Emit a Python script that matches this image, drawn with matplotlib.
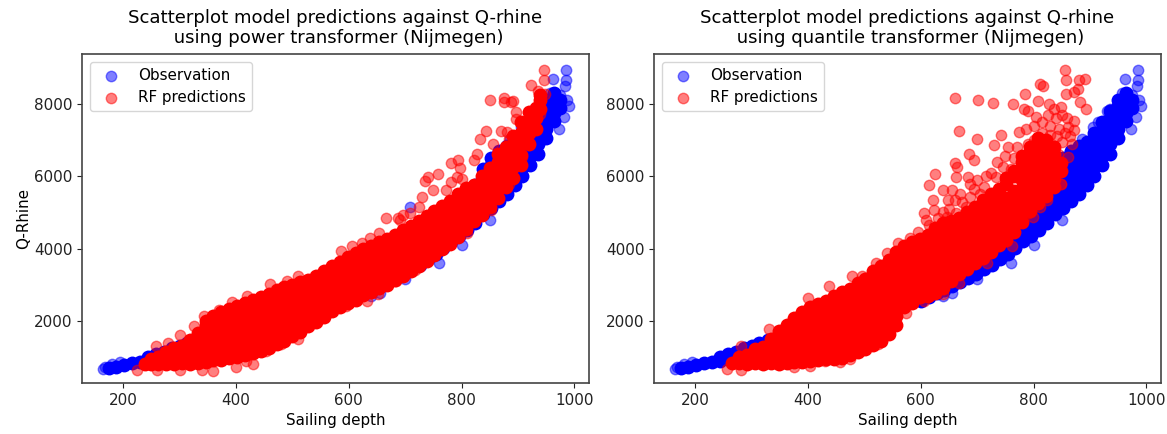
import matplotlib
matplotlib.use('Agg')
import matplotlib.pyplot as plt

# values, one row per depth: (depth, [q values])
obs_dense = [
    (174, [700]), (188, [730]), (202, [780]), (216, [830]),
    (230, [870]), (244, [900, 1000]), (258, [950, 1080]), (272, [1000, 1150]),
    (286, [1060, 1250]), (300, [1130, 1320]), (314, [1200, 1400]), (330, [1300, 1480]),
    (350, [1400, 1600]), (400, [1800]), (450, [2150]), (500, [2350]), (550, [2450]),
    (600, [2560]), (614, [2660]), (628, [2760]), (642, [2860, 3000]), (656, [2980, 3150]),
    (670, [3080, 3250]), (684, [3180, 3400]), (698, [3300, 3550]), (712, [3430, 3700]),
    (726, [3560, 3850]), (740, [3720, 4000]), (754, [3860, 4100, 4350]),
    (768, [4020, 4300, 4550]), (782, [4200, 4450, 4700]), (796, [4340, 4600, 4850]),
    (810, [4520, 4750, 5000, 5250]), (824, [4720, 4950, 5200, 5450, 5750]),
    (838, [4970, 5200, 5450, 5700, 5950, 6200]), (852, [5130, 5350, 5600, 5850, 6100, 6300, 6500]),
    (866, [5320, 5550, 5800, 6050, 6300, 6500, 6700]), (880, [5520, 5750, 6000, 6250, 6500, 6650, 6850]),
    (894, [5770, 6000, 6250, 6500, 6750, 6950]), (908, [6020, 6250, 6500, 6750, 6980, 7200]),
    (922, [6320, 6550, 6800, 7050, 7250, 7500]), (936, [6620, 6900, 7150, 7400, 7600, 7800]),
    (950, [7070, 7300, 7550, 7800, 7950, 8100]), (964, [7520, 7750, 7950, 8100, 8300]),
    (974, [7900, 8100]),
]
obs_sparse_x = [165, 167, 180, 195, 986, 986, 984, 987, 963, 975, 956, 948, 935, 930,
                886, 864, 905, 915, 709, 990, 982, 972, 655, 640, 700, 760, 800, 850]
obs_sparse_y = [680, 740, 800, 880, 8950, 8650, 8500, 8120, 8680, 8250, 8300, 7950, 7860, 7800,
                7040, 6620, 7350, 7500, 5160, 7950, 7650, 7300, 2780, 2700, 3150, 3600, 4100, 4800]

power_dense = [
    (238, [820]), (250, [800, 950]), (262, [800, 1000]), (276, [800, 1040, 1150]),
    (290, [800, 1020, 1240]), (304, [830, 1050, 1300]),
    (318, [820, 1040, 1260, 1480]), (332, [850, 1070, 1290, 1510, 1680]),
    (346, [880, 1100, 1320, 1540, 1760, 1880, 2000]),
    (360, [930, 1150, 1370, 1590, 1810, 2020, 2140]),
    (374, [910, 1130, 1350, 1570, 1790, 2010, 2130, 2260]),
    (388, [970, 1190, 1410, 1630, 1850, 2070, 2240, 2340]),
    (402, [1010, 1230, 1450, 1670, 1890, 2110, 2300, 2420]),
    (416, [1050, 1270, 1490, 1710, 1930, 2150, 2380, 2500]),
    (430, [1110, 1330, 1550, 1770, 1990, 2210, 2460, 2580]),
    (444, [1180, 1400, 1620, 1840, 2060, 2280, 2540, 2660]),
    (458, [1250, 1470, 1690, 1910, 2130, 2350, 2620, 2740]),
    (472, [1370, 1590, 1810, 2030, 2250, 2470, 2680, 2850]),
    (486, [1450, 1670, 1890, 2110, 2330, 2550, 2760, 2940]),
    (500, [1580, 1800, 2020, 2240, 2460, 2680, 2840, 3000]),
    (514, [1700, 1920, 2140, 2360, 2580, 2800, 2920, 3080]),
    (528, [1850, 2070, 2290, 2510, 2730, 2950, 3130]),
    (542, [1970, 2190, 2410, 2630, 2850, 3060, 3250]),
    (556, [2110, 2330, 2550, 2770, 2990, 3200, 3380]),
    (570, [2270, 2490, 2710, 2930, 3150, 3370, 3520]),
    (584, [2380, 2600, 2820, 3040, 3260, 3470, 3640]),
    (598, [2500, 2720, 2940, 3160, 3380, 3590, 3760]),
    (612, [2590, 2810, 3030, 3250, 3470, 3720, 3880]),
    (626, [2710, 2930, 3150, 3370, 3590, 3800, 3980]),
    (640, [2800, 3020, 3240, 3460, 3680, 3900, 4070]),
    (654, [2900, 3120, 3340, 3560, 3780, 4000, 4170]),
    (668, [3000, 3220, 3440, 3660, 3880, 4100, 4270]),
    (682, [3130, 3350, 3570, 3790, 4010, 4220, 4390]),
    (696, [3250, 3470, 3690, 3910, 4130, 4340, 4510]),
    (710, [3380, 3600, 3820, 4040, 4260, 4460, 4630]),
    (724, [3520, 3740, 3960, 4180, 4400, 4600, 4760]),
    (738, [3670, 3890, 4110, 4330, 4550, 4720, 4890]),
    (752, [3830, 4050, 4270, 4490, 4710, 4870, 5030]),
    (766, [3980, 4200, 4420, 4640, 4860, 5000, 5170]),
    (780, [4130, 4350, 4570, 4790, 5010, 5170, 5330]),
    (794, [4330, 4550, 4770, 4990, 5210, 5320, 5500]),
    (808, [4530, 4750, 4970, 5190, 5410, 5520, 5680]),
    (822, [4770, 4990, 5210, 5430, 5650, 5770]),
    (836, [4930, 5150, 5370, 5590, 5810, 6020]),
    (850, [5150, 5370, 5590, 5810, 6030, 6240]),
    (864, [5400, 5650, 5900, 6150, 6400, 6620]),
    (878, [5700, 5950, 6200, 6450, 6700, 6820]),
    (892, [5950, 6250, 6550, 6850, 7120]),
    (906, [6300, 6600, 6900, 7200, 7500]),
    (920, [6900, 7200, 7500, 7780]),
    (932, [7300, 7600, 7900]),
    (940, [7850, 8100, 8250]),
]
power_sparse_x = [851, 876, 876, 887, 891, 896, 897, 844, 832, 870, 881, 827, 822, 782, 793, 798,
                  758, 741, 736, 749, 729, 724, 709, 697, 690, 666, 773, 782, 792, 801, 946, 946,
                  923, 936, 856, 884, 258, 280, 300, 325, 344, 370, 393, 420, 460, 491, 510, 586,
                  605, 623, 638, 654, 687, 225, 260, 300, 340, 360, 400, 430, 418, 454, 479, 510,
                  553, 596, 632, 651, 684, 718, 761, 810, 853, 884, 908, 927, 939, 948]
power_sparse_y = [8108, 8154, 8044, 8044, 8071, 7769, 7586, 7238, 7037, 7238, 7220, 6624, 6441,
                  6368, 6460, 6240, 6075, 5983, 5874, 5617, 5434, 5160, 4976, 4930, 4793, 4839,
                  5617, 5846, 5983, 5938, 8941, 8657, 8529, 8365, 6899, 7037, 1320, 1400, 1620,
                  1850, 2150, 2300, 2520, 2700, 3020, 3100, 3236, 3923, 4060, 4152, 4289, 4427,
                  4840, 640, 650, 640, 640, 620, 720, 800, 900, 1176, 1359, 1496, 2137, 2412,
                  2550, 2733, 3100, 3420, 3970, 4430, 5070, 5800, 6533, 7450, 7720, 8270]

quantile_dense = [
    (266, [850]), (278, [830, 1000]), (292, [820, 1050]),
    (306, [840, 1070, 1230]), (320, [820, 1050, 1280]),
    (334, [840, 1070, 1300, 1500]), (348, [820, 1050, 1280, 1510, 1720]),
    (362, [850, 1080, 1310, 1540, 1770, 1900]),
    (376, [860, 1090, 1320, 1550, 1780, 2010, 2090]),
    (390, [860, 1090, 1320, 1550, 1780, 2010, 2240]),
    (404, [890, 1120, 1350, 1580, 1810, 2040, 2270, 2380]),
    (418, [920, 1150, 1380, 1610, 1840, 2070, 2300, 2470]),
    (432, [940, 1170, 1400, 1630, 1860, 2090, 2320, 2550]),
    (446, [950, 1180, 1410, 1640, 1870, 2100, 2330, 2560, 2690]),
    (460, [990, 1220, 1450, 1680, 1910, 2140, 2370, 2600, 2800]),
    (474, [1050, 1280, 1510, 1740, 1970, 2200, 2430, 2660, 2880]),
    (488, [1140, 1370, 1600, 1830, 2060, 2290, 2520, 2750, 2950, 3060]),
    (502, [1230, 1460, 1690, 1920, 2150, 2380, 2610, 2840, 3020, 3150]),
    (516, [1330, 1560, 1790, 2020, 2250, 2480, 2710, 2940, 3240, 3380]),
    (530, [1450, 1680, 1910, 2140, 2370, 2600, 2830, 3060, 3380, 3520]),
    (544, [1650, 1880, 2110, 2340, 2570, 2800, 3030, 3260, 3540, 3680]),
    (556, [1900, 2130, 2360, 2590, 2820, 3050, 3280, 3510, 3790, 3920]),
    (570, [2380, 2610, 2840, 3070, 3300, 3530, 3760, 3950, 4080]),
    (584, [2500, 2730, 2960, 3190, 3420, 3650, 3880, 4050, 4180]),
    (598, [2650, 2880, 3110, 3340, 3570, 3800, 4030, 4150, 4280]),
    (612, [2700, 2930, 3160, 3390, 3620, 3850, 4080, 4250, 4380]),
    (626, [2770, 3000, 3230, 3460, 3690, 3920, 4150, 4450, 4580]),
    (640, [2900, 3130, 3360, 3590, 3820, 4050, 4280, 4600, 4720]),
    (654, [3100, 3330, 3560, 3790, 4020, 4250, 4480, 4600, 4760]),
    (668, [3300, 3530, 3760, 3990, 4220, 4450, 4700, 4850]),
    (682, [3450, 3680, 3910, 4140, 4370, 4600, 4850, 5000]),
    (696, [3600, 3830, 4060, 4290, 4520, 4750, 5000, 5150]),
    (710, [3750, 3980, 4210, 4440, 4670, 4900, 5200, 5350]),
    (724, [3900, 4130, 4360, 4590, 4820, 5050, 5350, 5500]),
    (738, [4100, 4330, 4560, 4790, 5020, 5250, 5500, 5650]),
    (752, [4250, 4480, 4710, 4940, 5170, 5400, 5800, 5950]),
    (766, [4450, 4680, 4910, 5140, 5370, 5600, 6000, 6150]),
    (780, [4750, 4980, 5210, 5440, 5670, 5900, 6220, 6400, 6550]),
    (794, [5050, 5280, 5510, 5740, 5970, 6200, 6430, 6650, 6800]),
    (808, [5250, 5480, 5710, 5940, 6170, 6400, 6630, 6900, 7050]),
    (822, [5450, 5680, 5910, 6140, 6370, 6600, 6830, 7000]),
    (836, [5700, 5930, 6160, 6390, 6620, 6820]),
    (848, [6150, 6380]),
]
quantile_sparse_x = [661, 701, 728, 763, 783, 785, 790, 812, 817, 808, 827, 855, 857, 880, 891, 858,
                     871, 879, 883, 893, 871, 861, 668, 699, 742, 730, 775, 685, 694, 661, 665, 625,
                     615, 662, 684, 687, 640, 656, 621, 649, 624, 606, 609, 615, 687, 680, 662, 646,
                     674, 712, 734, 746, 755, 787, 805, 836, 849, 871, 843, 861, 849, 824, 812, 790,
                     281, 331, 400, 437, 478, 496, 521, 540, 559, 581, 596, 256, 281, 375, 403, 431,
                     456, 475, 524, 543, 574, 606, 640, 668, 718, 762, 799, 849,
                     800, 815, 825, 830, 840, 845, 850, 860, 865, 855, 868, 850, 842, 830, 815, 800,
                     790, 770, 765, 760, 750, 735, 725, 715, 700, 705, 695, 670, 660, 650, 640, 630]
quantile_sparse_y = [8154, 8108, 8026, 7998, 7861, 8273, 7797, 8548, 8502, 8090, 7998, 8941, 8657,
                     8657, 8685, 8273, 8319, 8410, 8044, 7861, 7540, 7357, 7247, 7037, 7128, 6853,
                     7220, 6624, 6441, 6368, 6258, 6075, 5755, 5983, 5983, 5800, 5617, 5617, 5342,
                     5342, 5068, 4976, 4793, 4656, 5434, 5160, 4976, 4885, 5297, 5709, 5983, 6258,
                     6807, 7311, 7632, 7861, 7906, 7266, 6624, 6533, 5800, 5342, 5160, 4976, 1313,
                     1771, 2640, 2962, 3236, 3236, 3603, 3877, 4152, 4289, 4473, 672, 650, 718, 764,
                     901, 855, 947, 1359, 1680, 2229, 2549, 2733, 3053, 3603, 4060, 4885, 5800,
                     7400, 7500, 7700, 7400, 7600, 7300, 7700, 7600, 7100, 7200, 6900, 6950, 7100, 7150, 7200, 7000,
                     6900, 6800, 6500, 6200, 6550, 6400, 6100, 6000, 5900, 5500, 5650, 5500, 5350, 5100, 5000, 4850]

title_left = 'Scatterplot model predictions against Q-rhine\n using power transformer (Nijmegen)'
title_right = 'Scatterplot model predictions against Q-rhine\n using quantile transformer (Nijmegen)'


def flatten(rows):
    xs = [x for x, ys in rows for _ in ys]
    ys = [y for _, col in rows for y in col]
    return xs, ys


def draw(ax, pred_dense, pred_x, pred_y, title):
    # the middle of each cloud is fully overplotted in the picture, so draw it solid
    ox, oy = flatten(obs_dense)
    ax.scatter(ox, oy, c='blue', s=100, alpha=1, linewidths=0)
    ax.scatter(obs_sparse_x, obs_sparse_y, c='blue', s=56, alpha=0.5, label='Observation')
    px, py = flatten(pred_dense)
    ax.scatter(px, py, c='red', s=100, alpha=1, linewidths=0)
    ax.scatter(pred_x, pred_y, c='red', s=56, alpha=0.5, label='RF predictions')
    ax.set_xlim(127, 1026)
    ax.set_ylim(286, 9380)
    ax.set_xticks([200, 400, 600, 800, 1000])
    ax.set_yticks([2000, 4000, 6000, 8000])
    ax.set_xlabel('Sailing depth', fontsize=10.9)
    ax.set_title(title, fontsize=13.1, pad=8, linespacing=1.1)
    ax.tick_params(labelsize=10.9, colors='#222222')
    ax.legend(loc='upper left', fontsize=10.9)
    for s in ax.spines.values():
        s.set_color('#444444')
        s.set_linewidth(1.2)


W, H = 1167, 434
fig = plt.figure(figsize=(W / 100, H / 100), dpi=100)
ax1 = fig.add_axes([82 / W, 1 - 383 / H, 507 / W, 329 / H])
ax2 = fig.add_axes([654 / W, 1 - 383 / H, 507 / W, 329 / H])
draw(ax1, power_dense, power_sparse_x, power_sparse_y, title_left)
draw(ax2, quantile_dense, quantile_sparse_x, quantile_sparse_y, title_right)
ax1.set_ylabel('Q-Rhine', fontsize=10.9, labelpad=2)
fig.savefig('out.png', dpi=100)
